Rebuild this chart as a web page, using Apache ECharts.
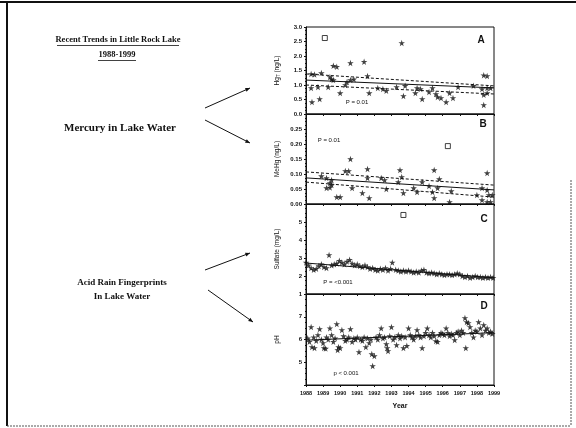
<!DOCTYPE html>
<html>
<head>
<meta charset="utf-8">
<script src="https://cdn.jsdelivr.net/npm/echarts@6/dist/echarts.min.js"></script>
<style>
  html, body { margin: 0; padding: 0; background: #fff; }
  #chart { width: 576px; height: 428px; }
</style>
</head>
<body>
<div id="chart"></div>
<script>
// years on the shared x axis
const yearTicks = [1988, 1999]

// A: total mercury (ng/L)
const hgPoints = [
  [1988.3, 1.38], [1988.5, 1.36], [1988.9, 1.41], [1989.4, 1.28], [1989.5, 1.2], [1989.6, 1.17],
  [1989.6, 1.66], [1989.8, 1.63], [1990.6, 1.76], [1991.4, 1.8], [1991.6, 1.31],
  [1988.3, 0.9], [1988.7, 0.93], [1989.3, 0.93], [1990.0, 0.72], [1990.3, 1.0], [1990.4, 1.1],
  [1990.6, 1.17], [1990.8, 1.2], [1991.7, 0.72], [1988.35, 0.41], [1988.8, 0.52],
  [1992.2, 0.9], [1992.5, 0.86], [1992.7, 0.8], [1993.3, 0.93], [1993.7, 0.62], [1993.8, 0.97],
  [1994.4, 0.72], [1994.5, 0.9], [1994.7, 0.86], [1994.8, 0.52], [1995.2, 0.76], [1995.4, 0.9],
  [1995.6, 0.69], [1995.7, 0.59], [1995.9, 0.55], [1996.2, 0.41], [1996.4, 0.72], [1996.6, 0.55],
  [1996.9, 0.93], [1997.8, 0.97], [1998.3, 0.86], [1998.4, 1.34], [1998.6, 1.31], [1998.4, 0.66],
  [1998.6, 0.9], [1998.6, 0.72], [1998.8, 0.9], [1998.4, 0.31], [1993.6, 2.45]
]
const hgOpen = [[1989.1, 2.62]]
const hgFit = [[1988, 1.17], [1999, 0.9]]
const hgUpper = [[1988, 1.38], [1999, 0.97]]
const hgLower = [[1988, 1.0], [1999, 0.69]]

// B: methylmercury (ng/L)
const mehgPoints = [
  [1990.6, 0.15], [1990.3, 0.11], [1990.5, 0.11], [1991.6, 0.117], [1993.5, 0.113], [1995.5, 0.113],
  [1998.6, 0.103], [1988.9, 0.093], [1989.2, 0.087], [1989.5, 0.08], [1989.4, 0.07], [1989.5, 0.063],
  [1989.2, 0.053], [1989.4, 0.055], [1990.7, 0.053], [1991.6, 0.087], [1992.4, 0.087], [1992.6, 0.08],
  [1992.7, 0.05], [1993.4, 0.073], [1993.6, 0.09], [1993.7, 0.037], [1989.8, 0.023], [1990.0, 0.023],
  [1991.3, 0.037], [1991.7, 0.02], [1994.3, 0.053], [1994.5, 0.04], [1994.8, 0.073], [1995.2, 0.06],
  [1995.4, 0.04], [1995.5, 0.02], [1995.8, 0.083], [1995.7, 0.053], [1996.5, 0.043], [1996.4, 0.007],
  [1998.0, 0.03], [1998.3, 0.053], [1998.6, 0.047], [1998.7, 0.03], [1998.9, 0.03], [1998.3, 0.013],
  [1998.6, 0.007], [1998.8, 0.007]
]
const mehgOpen = [[1996.3, 0.193]]
const mehgFit = [[1988, 0.087], [1999, 0.047]]
const mehgUpper = [[1988, 0.107], [1999, 0.063]]
const mehgLower = [[1988, 0.073], [1999, 0.023]]

// C: sulfate (mg/L)
const so4Points = [
  [1988.0, 2.75], [1988.15, 2.6], [1988.3, 2.45], [1988.45, 2.35], [1988.6, 2.4], [1988.75, 2.55],
  [1988.9, 2.65], [1989.05, 2.5], [1989.2, 2.45], [1989.35, 3.17], [1989.5, 2.6], [1989.65, 2.65],
  [1989.8, 2.7], [1989.95, 2.85], [1990.1, 2.75], [1990.25, 2.65], [1990.4, 2.8], [1990.55, 2.9],
  [1990.7, 2.7], [1990.85, 2.6], [1991.0, 2.65], [1991.15, 2.55], [1991.3, 2.5], [1991.45, 2.6],
  [1991.6, 2.5], [1991.75, 2.4], [1991.9, 2.45], [1992.05, 2.35], [1992.2, 2.3], [1992.35, 2.4],
  [1992.5, 2.35], [1992.65, 2.45], [1992.8, 2.3], [1992.95, 2.4], [1993.05, 2.75], [1993.25, 2.35],
  [1993.4, 2.3], [1993.55, 2.25], [1993.7, 2.3], [1993.85, 2.25], [1994.0, 2.3], [1994.15, 2.25],
  [1994.3, 2.2], [1994.45, 2.25], [1994.6, 2.2], [1994.75, 2.3], [1994.9, 2.35], [1995.05, 2.2],
  [1995.2, 2.15], [1995.35, 2.2], [1995.5, 2.15], [1995.65, 2.1], [1995.8, 2.15], [1995.95, 2.1],
  [1996.1, 2.05], [1996.25, 2.1], [1996.4, 2.1], [1996.55, 2.05], [1996.7, 2.1], [1996.85, 2.15],
  [1997.0, 2.1], [1997.15, 2.0], [1997.3, 1.95], [1997.45, 2.0], [1997.6, 1.9], [1997.75, 1.95],
  [1997.9, 2.0], [1998.05, 1.95], [1998.2, 1.95], [1998.35, 1.9], [1998.5, 1.95], [1998.65, 1.9],
  [1998.8, 1.95], [1998.95, 1.9]
]
const so4Open = [[1993.7, 5.39]]
const so4Fit = [[1988, 2.72], [1999, 1.9]]

// D: pH
const phPoints = [
  [1988.1, 6.05], [1988.2, 5.9], [1988.3, 6.55], [1988.35, 5.67], [1988.45, 6.1], [1988.5, 5.63],
  [1988.6, 5.95], [1988.7, 6.2], [1988.8, 6.46], [1988.9, 6.0], [1989.0, 5.85], [1989.05, 5.63],
  [1989.15, 5.6], [1989.2, 6.1], [1989.3, 6.0], [1989.4, 6.5], [1989.5, 6.2], [1989.6, 5.9],
  [1989.7, 6.05], [1989.8, 6.68], [1989.85, 5.54], [1989.9, 5.67], [1990.0, 5.63], [1990.1, 6.42],
  [1990.2, 6.15], [1990.3, 5.95], [1990.4, 6.0], [1990.5, 6.1], [1990.6, 6.46], [1990.7, 5.9],
  [1990.8, 6.05], [1990.9, 6.0], [1991.0, 6.1], [1991.1, 5.45], [1991.2, 6.0], [1991.3, 5.95],
  [1991.4, 6.1], [1991.5, 5.67], [1991.6, 6.05], [1991.7, 5.85], [1991.8, 6.0], [1991.85, 5.36],
  [1991.9, 4.84], [1992.0, 5.27], [1992.1, 6.1], [1992.2, 6.0], [1992.3, 6.2], [1992.4, 6.5],
  [1992.5, 6.05], [1992.6, 6.1], [1992.7, 5.8], [1992.75, 5.63], [1992.8, 5.5], [1992.9, 6.15],
  [1993.0, 6.55], [1993.1, 6.0], [1993.2, 6.1], [1993.3, 5.76], [1993.4, 6.2], [1993.5, 6.05],
  [1993.6, 6.15], [1993.7, 5.63], [1993.8, 6.1], [1993.9, 5.72], [1994.0, 6.5], [1994.1, 6.2],
  [1994.2, 6.1], [1994.3, 6.0], [1994.4, 6.15], [1994.5, 6.42], [1994.6, 6.2], [1994.7, 6.1],
  [1994.8, 5.63], [1994.9, 6.15], [1995.0, 6.3], [1995.1, 6.5], [1995.2, 6.2], [1995.3, 6.1],
  [1995.4, 6.3], [1995.5, 6.15], [1995.6, 5.93], [1995.7, 5.9], [1995.8, 6.2], [1995.9, 6.3],
  [1996.0, 6.25], [1996.1, 6.2], [1996.2, 6.5], [1996.3, 6.3], [1996.4, 6.15], [1996.5, 6.25],
  [1996.6, 6.2], [1996.7, 5.98], [1996.8, 6.3], [1996.9, 6.35], [1997.0, 6.2], [1997.1, 6.4],
  [1997.2, 6.3], [1997.3, 6.95], [1997.35, 5.63], [1997.4, 6.77], [1997.5, 6.73], [1997.6, 6.55],
  [1997.7, 6.3], [1997.8, 6.1], [1997.9, 6.4], [1998.0, 6.35], [1998.1, 6.77], [1998.2, 6.5],
  [1998.3, 6.2], [1998.4, 6.64], [1998.5, 6.4], [1998.6, 6.5], [1998.7, 6.3], [1998.8, 6.35],
  [1998.9, 6.25]
]
const phFit = [[1988, 5.97], [1999, 6.3]]

// panel axis ranges and labels
const panelNames = ['Hg{s|T} (ng/L)', 'MeHg (ng/L)', 'Sulfate (mg/L)', 'pH']
const panelLetters = ['A', 'B', 'C', 'D']
const panelStats = ['P = 0.01', 'P = 0.01', 'P = <0.001', 'p < 0.001']
const yMins = [0, 0, 1, 4]
const yMaxs = [3, 0.3, 6, 8]
const ySteps = [0.5, 0.05, 1, 1]
const yDigits = [1, 2, 0, 0]

const chart = echarts.init(document.getElementById('chart'))

const tops = [27, 114, 204, 294]
const heights = [87, 90, 90, 91]
const plotLeft = 306
const plotWidth = 188

const star = 'path://M50,0 L61,35 L98,35 L68,57 L79,91 L50,70 L21,91 L32,57 L2,35 L39,35 Z'
const ink = '#111'

const grids = tops.map((t, i) => ({
  left: plotLeft, top: t, width: plotWidth, height: heights[i],
  show: true, borderColor: ink, borderWidth: 1
}))

const xAxes = tops.map((t, i) => ({
  type: 'value', gridIndex: i, min: yearTicks[0], max: yearTicks[1], interval: 1,
  name: i === 3 ? 'Year' : '', nameLocation: 'middle', nameGap: 18,
  nameTextStyle: { fontSize: 7, fontFamily: 'Liberation Sans', fontWeight: 'bold', color: ink },
  axisLine: { lineStyle: { color: ink } },
  axisTick: { length: 2, lineStyle: { color: ink } },
  minorTick: { show: true, splitNumber: 4, length: 1, lineStyle: { color: ink } },
  splitLine: { show: false },
  axisLabel: {
    show: i === 3, fontSize: 5.5, fontFamily: 'Liberation Sans', fontWeight: 'bold', color: ink, margin: 5,
    formatter: v => String(v)
  }
}))

const yAxes = tops.map((t, i) => ({
  type: 'value', gridIndex: i, min: yMins[i], max: yMaxs[i], interval: ySteps[i],
  name: panelNames[i], nameLocation: 'middle', nameGap: 25,
  nameTextStyle: {
    fontSize: 6.5, fontFamily: 'Liberation Sans', color: ink,
    rich: { s: { fontSize: 4.5, verticalAlign: 'bottom', color: ink } }
  },
  axisLine: { lineStyle: { color: ink } },
  axisTick: { length: 2, lineStyle: { color: ink } },
  minorTick: { show: true, splitNumber: 4, length: 1, lineStyle: { color: ink } },
  splitLine: { show: false },
  axisLabel: {
    fontSize: 6, fontFamily: 'Liberation Sans', fontWeight: 'bold', color: ink, margin: 4,
    showMaxLabel: i === 0, showMinLabel: i !== 3,
    formatter: v => v.toFixed(yDigits[i])
  }
}))

function dots(data, i) {
  return {
    type: 'scatter', xAxisIndex: i, yAxisIndex: i, data: data,
    symbol: star, symbolSize: 6.5, itemStyle: { color: ink }, z: 3
  }
}
function squares(data, i) {
  return {
    type: 'scatter', xAxisIndex: i, yAxisIndex: i, data: data,
    symbol: 'rect', symbolSize: 5, itemStyle: { color: '#fff', borderColor: ink, borderWidth: 1 }, z: 3
  }
}
function fitLine(data, i, dashed) {
  return {
    type: 'line', xAxisIndex: i, yAxisIndex: i, data: data, symbol: 'none', z: 2,
    lineStyle: { color: ink, width: 1, type: dashed ? [3, 2] : 'solid' }
  }
}

const series = [
  dots(hgPoints, 0), squares(hgOpen, 0),
  fitLine(hgFit, 0, false), fitLine(hgUpper, 0, true), fitLine(hgLower, 0, true),
  dots(mehgPoints, 1), squares(mehgOpen, 1),
  fitLine(mehgFit, 1, false), fitLine(mehgUpper, 1, true), fitLine(mehgLower, 1, true),
  dots(so4Points, 2), squares(so4Open, 2), fitLine(so4Fit, 2, false),
  dots(phPoints, 3), fitLine(phFit, 3, false)
]

function arrow(x1, y1, x2, y2) {
  const a = Math.atan2(y2 - y1, x2 - x1)
  const s = 5
  const p1 = [x2 - s * Math.cos(a - 0.4), y2 - s * Math.sin(a - 0.4)]
  const p2 = [x2 - s * Math.cos(a + 0.4), y2 - s * Math.sin(a + 0.4)]
  return [
    { type: 'line', shape: { x1: x1, y1: y1, x2: x2, y2: y2 }, style: { stroke: ink, lineWidth: 1 } },
    { type: 'polygon', shape: { points: [[x2, y2], p1, p2] }, style: { fill: ink } }
  ]
}

function label(text, x, y, size, opts) {
  return {
    type: 'text', x: x, y: y,
    style: Object.assign({
      text: text, fill: ink, fontSize: size, fontFamily: 'Liberation Serif', fontWeight: 'bold',
      align: 'center', verticalAlign: 'middle'
    }, opts || {})
  }
}

const statPos = [[357, 102], [329, 140], [338, 282], [346, 373]]
const letterPos = [[481, 40], [483, 124], [484, 219], [484, 306]]

const graphic = [
  // slide frame
  { type: 'line', shape: { x1: 0, y1: 2, x2: 576, y2: 2 }, style: { stroke: ink, lineWidth: 2 } },
  { type: 'line', shape: { x1: 7, y1: 2, x2: 7, y2: 426 }, style: { stroke: ink, lineWidth: 2 } },
  { type: 'line', shape: { x1: 7, y1: 426, x2: 571, y2: 426 }, style: { stroke: '#555', lineWidth: 1, lineDash: [2, 1] } },
  { type: 'line', shape: { x1: 571, y1: 180, x2: 571, y2: 426 }, style: { stroke: '#555', lineWidth: 1, lineDash: [2, 1] } },
  // headings on the left
  label('Recent Trends in Little Rock Lake', 118, 40, 8.5),
  { type: 'line', shape: { x1: 57, y1: 45.5, x2: 179, y2: 45.5 }, style: { stroke: ink, lineWidth: 0.8 } },
  label('1988-1999', 117, 55, 8.5),
  { type: 'line', shape: { x1: 98, y1: 60.5, x2: 136, y2: 60.5 }, style: { stroke: ink, lineWidth: 0.8 } },
  label('Mercury in Lake Water', 120, 128, 11),
  label('Acid Rain Fingerprints', 122, 283, 9),
  label('In Lake Water', 122, 297, 9)
].concat(
  arrow(205, 108, 250, 88), arrow(205, 120, 250, 143),
  arrow(205, 270, 250, 253), arrow(208, 290, 253, 322),
  panelStats.map((s, i) => label(s, statPos[i][0], statPos[i][1], 6,
    { fontFamily: 'Liberation Sans', fontWeight: 'normal' })),
  panelLetters.map((s, i) => label(s, letterPos[i][0], letterPos[i][1], 10,
    { fontFamily: 'Liberation Sans' }))
)

chart.setOption({
  animation: false,
  backgroundColor: '#fff',
  grid: grids,
  xAxis: xAxes,
  yAxis: yAxes,
  series: series,
  graphic: graphic
})
</script>
</body>
</html>
